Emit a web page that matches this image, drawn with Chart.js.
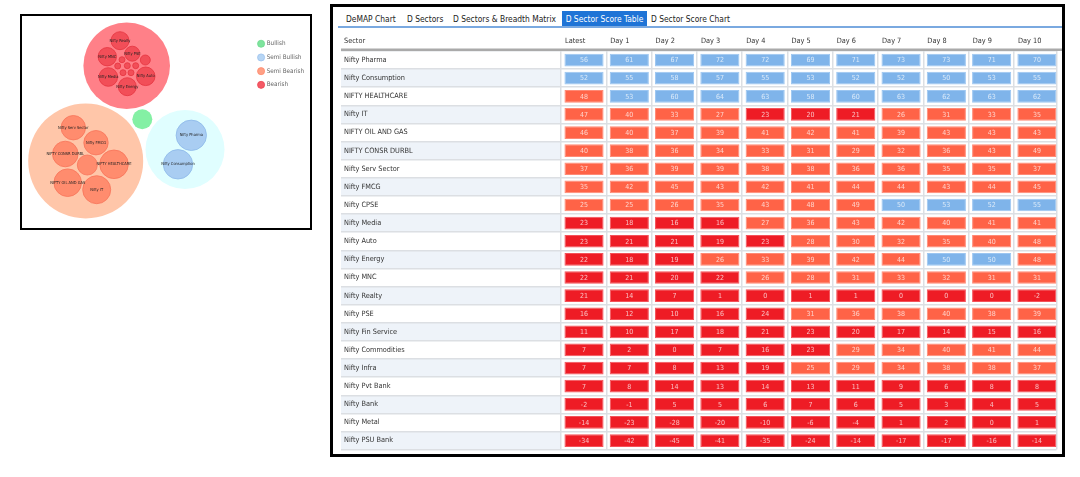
<!DOCTYPE html>
<html>
<head>
<meta charset="utf-8">
<script src="https://cdn.jsdelivr.net/npm/chart.js@4.4.1/dist/chart.umd.min.js"></script>
<style>
html,body{margin:0;padding:0;background:#fff;width:1080px;height:477px;overflow:hidden;
  font-family:"DejaVu Sans Condensed","Liberation Sans","Noto Sans",sans-serif;}
#bubbleBox{position:absolute;left:20px;top:14px;width:292px;height:216px;box-sizing:border-box;border:2px solid #000;}
#bubbleBox canvas{position:absolute;left:0;top:0;}
#tableFrame{position:absolute;left:330px;top:4px;width:735px;height:453px;box-sizing:border-box;border:3px solid #000;z-index:5;}
#tabline{position:absolute;left:338px;top:26px;width:724px;height:2px;background:#7aa9e0;}
.tab{position:absolute;top:11px;height:16px;line-height:16px;font-size:8.4px;color:#222;white-space:nowrap;}
.tab.active{background:#1f74d6;color:#fff;width:85px;text-align:center;}
#tableWrap{position:absolute;left:333px;top:28px;width:729px;height:426px;}
#tableWrap canvas{position:absolute;left:0;top:0;}
</style>
</head>
<body>
<div id="bubbleBox"><canvas id="bubble" width="300" height="212"></canvas></div>

<div class="tab" style="left:346px">DeMAP Chart</div>
<div class="tab" style="left:407px">D Sectors</div>
<div class="tab" style="left:453px">D Sectors &amp; Breadth Matrix</div>
<div class="tab active" style="left:562px">D Sector Score Table</div>
<div class="tab" style="left:651px">D Sector Score Chart</div>
<div id="tabline"></div>
<div id="tableWrap"><canvas id="table" width="729" height="426"></canvas></div>
<div id="tableFrame"></div>

<script>
const FONT = '"DejaVu Sans Condensed","Liberation Sans","Noto Sans",sans-serif';
Chart.defaults.font.family = FONT;

// ---------------- Table data ----------------
const headerTitle = 'Sector';
const sectors = ['Nifty Pharma','Nifty Consumption','NIFTY HEALTHCARE','Nifty IT','NIFTY OIL AND GAS',
  'NIFTY CONSR DURBL','Nifty Serv Sector','Nifty FMCG','Nifty CPSE','Nifty Media','Nifty Auto',
  'Nifty Energy','Nifty MNC','Nifty Realty','Nifty PSE','Nifty Fin Service','Nifty Commodities',
  'Nifty Infra','Nifty Pvt Bank','Nifty Bank','Nifty Metal','Nifty PSU Bank'];
const columns = ['Latest','Day 1','Day 2','Day 3','Day 4','Day 5','Day 6','Day 7','Day 8','Day 9','Day 10'];

const latest = [56,52,48,47,46,40,37,35,25,23,23,22,22,21,16,11,7,7,7,-2,-14,-34];
const day1   = [61,55,53,40,40,38,36,42,25,18,21,18,21,14,12,10,2,7,8,-1,-23,-42];
const day2   = [67,58,60,33,37,36,39,45,26,16,21,19,20,7,10,17,0,8,14,5,-28,-45];
const day3   = [72,57,64,27,39,34,39,43,35,16,19,26,22,1,16,18,7,13,13,5,-20,-41];
const day4   = [72,55,63,23,41,33,38,42,43,27,23,33,26,0,24,21,16,19,14,6,-10,-35];
const day5   = [69,53,58,20,42,31,38,41,48,36,28,39,28,1,31,23,23,25,13,7,-6,-24];
const day6   = [71,52,60,21,41,29,36,44,49,43,30,42,31,1,36,20,29,29,11,6,-4,-14];
const day7   = [73,52,63,26,39,32,36,44,50,42,32,44,33,0,38,17,34,34,9,5,1,-17];
const day8   = [73,50,62,31,43,36,35,43,53,40,35,50,32,0,40,14,40,38,6,3,2,-17];
const day9   = [71,53,63,33,43,43,35,44,52,41,40,50,31,0,38,15,41,38,8,4,0,-16];
const day10  = [70,55,62,35,43,49,37,45,55,41,48,48,31,-2,39,16,44,37,8,5,1,-14];
const columnScores = [latest,day1,day2,day3,day4,day5,day6,day7,day8,day9,day10];

// ---------------- Bubble data ----------------
const bubbleGroups = ['Bullish','Semi Bullish','Semi Bearish','Bearish'];
const bullishBubbles = [
  {x:120.3,y:103.3,r:10,label:''}
];
const semiBullishBubbles = [
  {x:163,y:133.5,r:39.5,label:''},
  {x:169.3,y:119.3,r:15.2,label:'Nifty Pharma'},
  {x:156,y:148.3,r:14.7,label:'Nifty Consumption'}
];
const semiBearishBubbles = [
  {x:63.7,y:145,r:57.5,label:''},
  {x:51.3,y:111.7,r:12.2,label:'Nifty Serv Sector'},
  {x:74,y:126.7,r:12.2,label:'Nifty FMCG'},
  {x:43.3,y:138,r:12.8,label:'NIFTY CONSR DURBL'},
  {x:65.3,y:149,r:10,label:''},
  {x:92,y:148.3,r:14.3,label:'NIFTY HEALTHCARE'},
  {x:45.7,y:166.7,r:13.8,label:'NIFTY OIL AND GAS'},
  {x:74.7,y:173.7,r:14,label:'Nifty IT'}
];
const bearishBubbles = [
  {x:104.7,y:49.7,r:43.3,label:''},
  {x:98,y:24.7,r:9,label:'Nifty Realty'},
  {x:85.3,y:40.7,r:9.2,label:'Nifty MNC'},
  {x:110.3,y:37.7,r:7.5,label:'Nifty PSE'},
  {x:123.3,y:44,r:5,label:''},
  {x:86.3,y:61,r:9.3,label:'Nifty Media'},
  {x:123.7,y:60.3,r:9.3,label:'Nifty Auto'},
  {x:105.3,y:70.7,r:9,label:'Nifty Energy'},
  {x:100,y:43.7,r:3,label:''},
  {x:95.7,y:50,r:3,label:''},
  {x:105.3,y:49.7,r:3,label:''},
  {x:113.7,y:49.7,r:3,label:''},
  {x:101,y:56.7,r:3,label:''},
  {x:109,y:56.7,r:3,label:''}
];
const groupBubbles = [bullishBubbles, semiBullishBubbles, semiBearishBubbles, bearishBubbles];

// styles
const parentFill  = ['#84f0a4','#e0feff','#ffc6a9','#ff8088'];
const childFill   = ['#84f0a4','#a9cdf2','#ff8c6e','#f24e58'];
const childStroke = ['#84f0a4','#8db9ea','#f87459','#e5343f'];
const legendFill  = ['#7ee49d','#b6d5f4','#ffa085','#f45a66'];
const legendStroke= ['#6fd98f','#9cc2ee','#ff8c70','#ee4452'];

const BUBBLE_PAD_TOP = 17.2;

const bubbleLabelPlugin = {
  id:'bubbleLabels',
  afterDatasetsDraw(chart){
    const ctx = chart.ctx;
    ctx.save();
    ctx.font = '4px ' + FONT;
    ctx.fillStyle = '#222';
    ctx.textAlign = 'center';
    ctx.textBaseline = 'middle';
    chart.data.datasets.forEach((ds, di) => {
      const meta = chart.getDatasetMeta(di);
      meta.data.forEach((el, i) => {
        const lab = ds.data[i].label;
        if (lab) ctx.fillText(lab, el.x, el.y);
      });
    });
    ctx.restore();
  }
};

new Chart(document.getElementById('bubble'), {
  type:'bubble',
  data:{
    datasets: bubbleGroups.map((g, gi) => ({
      label:g,
      data: groupBubbles[gi],
      clip:false,
      backgroundColor: c => c.dataIndex === 0 ? parentFill[gi] : childFill[gi],
      borderColor: c => c.dataIndex === 0 ? parentFill[gi] : childStroke[gi],
      borderWidth: c => c.dataIndex === 0 ? 0 : 0.8,
      hoverRadius:0
    }))
  },
  options:{
    responsive:false, animation:false, events:[],
    layout:{autoPadding:false, padding:{top:BUBBLE_PAD_TOP,right:8,left:0,bottom:0}},
    scales:{
      x:{type:'linear',display:false,bounds:'data',grace:0,
         afterDataLimits: s => { s.min = 0; s.max = s.width; }},
      y:{type:'linear',display:false,reverse:true,bounds:'data',grace:0,
         afterDataLimits: s => { s.min = BUBBLE_PAD_TOP; s.max = BUBBLE_PAD_TOP + s.height; }}
    },
    plugins:{
      tooltip:{enabled:false},
      legend:{
        position:'right', align:'start',
        labels:{
          usePointStyle:true, pointStyle:'circle', boxWidth:5, boxHeight:5, padding:7.4,
          color:'#666', font:{size:6.3, family:FONT},
          generateLabels: () => bubbleGroups.map((g,i) => ({
            text:g, fillStyle:legendFill[i], strokeStyle:legendStroke[i], lineWidth:0.8,
            pointStyle:'circle', hidden:false, datasetIndex:i, fontColor:'#666'
          }))
        }
      }
    }
  },
  plugins:[bubbleLabelPlugin]
});

// ---------------- Table chart ----------------
const CELL_START = 0.076, CELL_END = 0.94, X_MAX = 10.94;
function cellFill(v){ return v >= 50 ? '#7fb4ea' : (v >= 25 ? '#ff6347' : '#ee1c25'); }
function cellBorder(v){ return v >= 50 ? '#9cc6f1' : (v >= 25 ? '#ff8a76' : '#f4525a'); }

const tablePlugin = {
  id:'tableDecor',
  beforeDraw(chart){
    const {ctx, chartArea} = chart;
    const y = chart.scales.y;
    const h = (chartArea.bottom - chartArea.top) / sectors.length;
    ctx.save();
    ctx.fillStyle = '#eef3f9';
    sectors.forEach((s, i) => {
      if (i % 2 === 1) {
        const yc = y.getPixelForValue(i);
        ctx.fillRect(8, yc - h/2, chartArea.left - 8, h);
      }
    });
    ctx.restore();
  },
  afterDatasetsDraw(chart){
    const ctx = chart.ctx;
    ctx.save();
    ctx.font = '7px ' + FONT;
    ctx.fillStyle = 'rgba(255,255,255,0.72)';
    ctx.textAlign = 'center';
    ctx.textBaseline = 'middle';
    columnScores.forEach((arr, c) => {
      const meta = chart.getDatasetMeta(c);
      meta.data.forEach((el, r) => {
        const p = el.getCenterPoint();
        ctx.fillText(String(arr[r]), p.x, p.y + 0.5);
      });
    });
    ctx.restore();
  },
  afterDraw(chart){
    const {ctx, chartArea} = chart;
    ctx.save();
    ctx.fillStyle = '#aaaaaa';
    ctx.fillRect(8, chartArea.top - 2.5, chart.width - 8, 2.5);
    ctx.font = '7.3px ' + FONT;
    ctx.fillStyle = '#333';
    ctx.textAlign = 'left';
    ctx.textBaseline = 'middle';
    ctx.fillText(headerTitle, 11, chartArea.top - 10);
    ctx.restore();
  }
};

new Chart(document.getElementById('table'), {
  type:'bar',
  data:{
    labels: sectors,
    datasets: columns.map((name, c) => ({
      label:name,
      data: sectors.map(() => [c + CELL_START, c + CELL_END]),
      backgroundColor: ctx => cellFill(columnScores[c][ctx.dataIndex]),
      borderColor: ctx => cellBorder(columnScores[c][ctx.dataIndex]),
      borderWidth:1,
      borderSkipped:false,
      grouped:false,
      barPercentage:0.7,
      categoryPercentage:1
    }))
  },
  options:{
    indexAxis:'y', responsive:false, animation:false, events:[],
    layout:{autoPadding:false, padding:{left:11,right:0,top:0,bottom:2}},
    plugins:{legend:{display:false}, tooltip:{enabled:false}},
    scales:{
      x:{
        type:'linear', position:'top', min:0, max:X_MAX,
        afterBuildTicks: s => { s.ticks = columns.map((_, i) => ({value:i})).concat([{value:X_MAX}]); },
        ticks:{
          align:'start', labelOffset:4, padding:5.5, autoSkip:false, maxRotation:0,
          font:{size:7.3, family:FONT}, color:'#333',
          callback: v => (Number.isInteger(v) && columns[v] !== undefined) ? columns[v] : ''
        },
        grid:{color:'#dcdfe3', lineWidth:1.5, drawTicks:false},
        border:{display:false},
        afterFit: s => { s.height = 23; }
      },
      y:{
        type:'category', offset:true,
        ticks:{crossAlign:'far', autoSkip:false, padding:0, font:{size:7.3, family:FONT}, color:'#333'},
        grid:{offset:true, color:'#dcdfe3', lineWidth:1.5, drawTicks:true, tickLength:220},
        border:{display:false},
        afterFit: s => { s.width = 217; }
      }
    }
  },
  plugins:[tablePlugin]
});
</script>
</body>
</html>
